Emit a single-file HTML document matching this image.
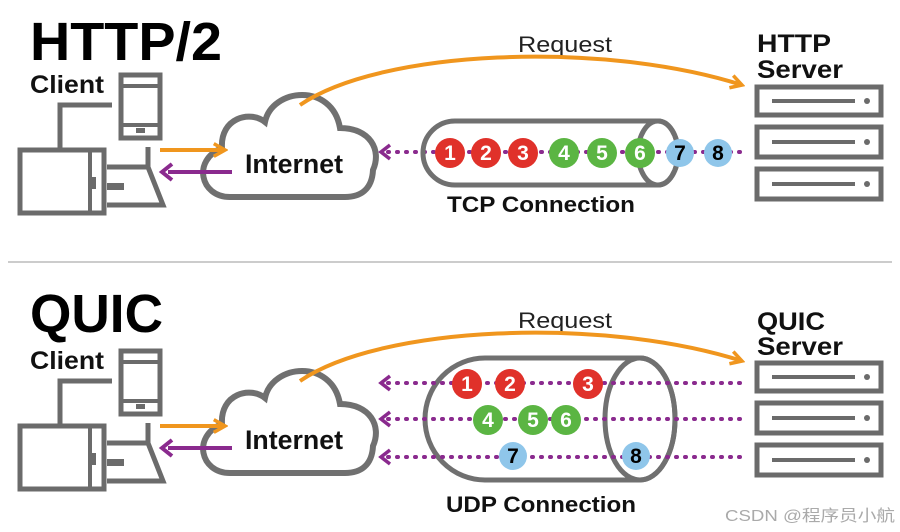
<!DOCTYPE html>
<html><head><meta charset="utf-8"><style>
html,body{margin:0;padding:0;background:#fff;}
svg{display:block;}
text{font-family:"Liberation Sans","Noto Sans CJK SC",sans-serif;}
</style></head><body>
<svg width="900" height="532" viewBox="0 0 900 532" xmlns="http://www.w3.org/2000/svg">
<defs>
<marker id="ao" viewBox="0 0 10 10" refX="8" refY="5" markerWidth="4" markerHeight="4" orient="auto"><path d="M1 1 L8 5 L1 9" fill="none" stroke="#f0961e" stroke-width="2.2"/></marker>
<g id="client">
  <rect x="121" y="75" width="39" height="63" fill="none" stroke="#6b6b6b" stroke-width="5"/>
  <line x1="121" y1="86" x2="160" y2="86" stroke="#6b6b6b" stroke-width="4"/>
  <line x1="121" y1="125" x2="160" y2="125" stroke="#6b6b6b" stroke-width="4"/>
  <rect x="136" y="128" width="9" height="5" fill="#6b6b6b"/>
  <polyline points="60,148 60,105 112,105" fill="none" stroke="#6b6b6b" stroke-width="5"/>
  <rect x="20" y="150" width="84" height="63" fill="none" stroke="#6b6b6b" stroke-width="5"/>
  <line x1="90" y1="150" x2="90" y2="213" stroke="#6b6b6b" stroke-width="4"/>
  <rect x="90" y="177" width="6" height="12" fill="#6b6b6b"/>
  <polyline points="148,147 148,167 163,205 107,205" fill="none" stroke="#6b6b6b" stroke-width="5"/>
  <line x1="107" y1="167" x2="148" y2="167" stroke="#6b6b6b" stroke-width="5"/>
  <rect x="107" y="183" width="17" height="7" fill="#6b6b6b"/>
  <path d="M230 197 C200 197 192 160 222 148 C220 118 250 110 265 122 C272 88 332 82 340 128 C370 128 382 150 373 170 C372 190 360 197 345 197 Z" fill="#fff" stroke="#707070" stroke-width="6"/>
  <line x1="160" y1="150" x2="225" y2="150" stroke="#f0961e" stroke-width="4" marker-end="url(#ao)"/>
  <line x1="232" y1="172" x2="168" y2="172" stroke="#8a2a8e" stroke-width="4"/>
  <path d="M172 164 L162 172 L172 180" fill="none" stroke="#8a2a8e" stroke-width="4"/>
  <text x="245" y="173" font-size="27" font-weight="bold" fill="#111" textLength="98" lengthAdjust="spacingAndGlyphs">Internet</text>
  <text x="30" y="93" font-size="25" font-weight="bold" fill="#111" textLength="74" lengthAdjust="spacingAndGlyphs">Client</text>
</g>
<g id="server" fill="none" stroke="#6b6b6b" stroke-width="5">
  <rect x="757" y="87" width="124" height="28"/>
  <line x1="772" y1="101" x2="855" y2="101" stroke-width="4"/>
  <rect x="757" y="127" width="124" height="30"/>
  <line x1="772" y1="142" x2="855" y2="142" stroke-width="4"/>
  <rect x="757" y="169" width="124" height="30"/>
  <line x1="772" y1="184" x2="855" y2="184" stroke-width="4"/>
  <circle cx="867" cy="101" r="3" fill="#6b6b6b" stroke="none"/>
  <circle cx="867" cy="142" r="3" fill="#6b6b6b" stroke="none"/>
  <circle cx="867" cy="184" r="3" fill="#6b6b6b" stroke="none"/>
</g>
</defs>

<!-- TOP -->
<text x="30" y="60" font-size="54" font-weight="bold" fill="#000" textLength="192" lengthAdjust="spacingAndGlyphs">HTTP/2</text>
<use href="#client"/>
<use href="#server"/>
<text x="757" y="52" font-size="25" font-weight="bold" fill="#111" textLength="74" lengthAdjust="spacingAndGlyphs">HTTP</text>
<text x="757" y="78" font-size="25" font-weight="bold" fill="#111" textLength="86" lengthAdjust="spacingAndGlyphs">Server</text>
<text x="518" y="52" font-size="22" fill="#222" textLength="94" lengthAdjust="spacingAndGlyphs">Request</text>
<path d="M300 105 C380 50 600 40 742 85" fill="none" stroke="#f0961e" stroke-width="4" marker-end="url(#ao)"/>
<line x1="388" y1="152" x2="745" y2="152" stroke="#8a2a8e" stroke-width="4" stroke-dasharray="1 8" stroke-linecap="round"/>
<path d="M390 145 L381 152 L390 159" fill="none" stroke="#8a2a8e" stroke-width="3.5"/>
<path d="M455 121 L658 121 A20 32 0 0 1 658 185 L455 185 A32 32 0 0 1 455 121 Z" fill="none" stroke="#707070" stroke-width="5"/>
<ellipse cx="658" cy="153" rx="20" ry="32" fill="none" stroke="#707070" stroke-width="5"/>
<g font-size="21" font-weight="bold" text-anchor="middle">
<circle cx="450" cy="153" r="15" fill="#e0312a"/><text x="450" y="160" fill="#fff">1</text>
<circle cx="486" cy="153" r="15" fill="#e0312a"/><text x="486" y="160" fill="#fff">2</text>
<circle cx="523" cy="153" r="15" fill="#e0312a"/><text x="523" y="160" fill="#fff">3</text>
<circle cx="564" cy="153" r="15" fill="#5bb543"/><text x="564" y="160" fill="#fff">4</text>
<circle cx="602" cy="153" r="15" fill="#5bb543"/><text x="602" y="160" fill="#fff">5</text>
<circle cx="640" cy="153" r="15" fill="#5bb543"/><text x="640" y="160" fill="#fff">6</text>
<circle cx="680" cy="153" r="14" fill="#8fc6ea"/><text x="680" y="160" fill="#000">7</text>
<circle cx="718" cy="153" r="14" fill="#8fc6ea"/><text x="718" y="160" fill="#000">8</text>
</g>
<text x="447" y="212" font-size="22" font-weight="bold" fill="#111" textLength="188" lengthAdjust="spacingAndGlyphs">TCP Connection</text>

<line x1="8" y1="262" x2="892" y2="262" stroke="#bbb" stroke-width="1.5"/>

<!-- BOTTOM -->
<text x="30" y="332" font-size="54" font-weight="bold" fill="#000" textLength="133" lengthAdjust="spacingAndGlyphs">QUIC</text>
<use href="#client" transform="translate(0,276)"/>
<use href="#server" transform="translate(0,276)"/>
<text x="757" y="330" font-size="25" font-weight="bold" fill="#111" textLength="68" lengthAdjust="spacingAndGlyphs">QUIC</text>
<text x="757" y="355" font-size="25" font-weight="bold" fill="#111" textLength="86" lengthAdjust="spacingAndGlyphs">Server</text>
<text x="518" y="328" font-size="22" fill="#222" textLength="94" lengthAdjust="spacingAndGlyphs">Request</text>
<path d="M300 381 C380 326 600 316 742 361" fill="none" stroke="#f0961e" stroke-width="4" marker-end="url(#ao)"/>
<path d="M485 358 L640 358 A35 61 0 0 1 640 480 L485 480 A60 61 0 0 1 485 358 Z" fill="none" stroke="#707070" stroke-width="5"/>
<ellipse cx="640" cy="419" rx="35" ry="61" fill="none" stroke="#707070" stroke-width="5"/>
<g stroke="#8a2a8e" stroke-width="4" stroke-dasharray="1 8" stroke-linecap="round">
<line x1="388" y1="383" x2="740" y2="383"/>
<line x1="388" y1="419" x2="740" y2="419"/>
<line x1="388" y1="457" x2="740" y2="457"/>
</g>
<g fill="none" stroke="#8a2a8e" stroke-width="3.5">
<path d="M390 376 L381 383 L390 390"/>
<path d="M390 412 L381 419 L390 426"/>
<path d="M390 450 L381 457 L390 464"/>
</g>
<g font-size="21" font-weight="bold" text-anchor="middle">
<circle cx="467" cy="384" r="15" fill="#e0312a"/><text x="467" y="391" fill="#fff">1</text>
<circle cx="510" cy="384" r="15" fill="#e0312a"/><text x="510" y="391" fill="#fff">2</text>
<circle cx="588" cy="384" r="15" fill="#e0312a"/><text x="588" y="391" fill="#fff">3</text>
<circle cx="488" cy="420" r="15" fill="#5bb543"/><text x="488" y="427" fill="#fff">4</text>
<circle cx="533" cy="420" r="15" fill="#5bb543"/><text x="533" y="427" fill="#fff">5</text>
<circle cx="566" cy="420" r="15" fill="#5bb543"/><text x="566" y="427" fill="#fff">6</text>
<circle cx="513" cy="456" r="14" fill="#8fc6ea"/><text x="513" y="463" fill="#000">7</text>
<circle cx="636" cy="456" r="14" fill="#8fc6ea"/><text x="636" y="463" fill="#000">8</text>
</g>
<text x="446" y="512" font-size="22" font-weight="bold" fill="#111" textLength="190" lengthAdjust="spacingAndGlyphs">UDP Connection</text>
<text x="725" y="521" font-size="16" fill="#aaa" textLength="170" lengthAdjust="spacingAndGlyphs">CSDN @程序员小航</text>
</svg>
</body></html>
